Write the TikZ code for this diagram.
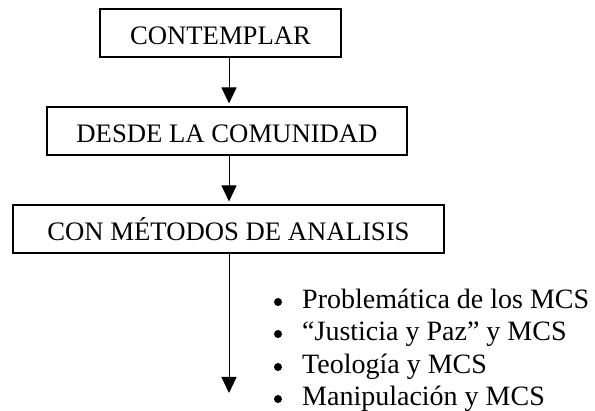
\documentclass[tikz,border=0pt]{standalone}
\usepackage{fontspec}
\setmainfont{Liberation Serif}
\usetikzlibrary{arrows.meta}
\begin{document}
\begin{tikzpicture}[x=1pt,y=-1pt,
  stepbox/.style={draw,line width=1.1pt,inner xsep=0pt,inner ysep=0pt,
    minimum height=48pt,text height=30pt,text depth=6pt,
    font=\fontsize{26.7}{32}\selectfont},
  arr/.style={line width=1pt,-{Triangle[width=15pt,length=16pt]}},
  bul/.style={circle,fill,inner sep=0pt,minimum size=8pt},
  item/.style={anchor=base west,inner sep=0pt,font=\fontsize{28}{33}\selectfont}]
\useasboundingbox (0,0) rectangle (595,411);
\node[stepbox,minimum width=241pt] (b1) at (220.5,33) {CONTEMPLAR};
\node[stepbox,minimum width=360pt] (b2) at (227,131) {DESDE LA COMUNIDAD};
\node[stepbox,minimum width=431pt] (b3) at (228.5,229) {CON MÉTODOS DE ANALISIS};
\coordinate (ax) at (229,0);
\coordinate (end) at (229,393);
\draw[arr] (b1.south -| ax) -- ([yshift=3pt]b2.north -| ax);
\draw[arr] (b2.south -| ax) -- ([yshift=3pt]b3.north -| ax);
\draw[arr] (b3.south -| ax) -- (end);
\node[bul] (d1) at (278,302) {};
\node[bul] (d2) at (278,334) {};
\node[bul] (d3) at (278,367) {};
\node[bul] (d4) at (278,399) {};
\node[item] (t1) at (302,309) {Problemática de los MCS};
\node[item] (t2) at (302,341) {“Justicia y Paz” y MCS};
\node[item] (t3) at (302,374) {Teología y MCS};
\node[item] (t4) at (302,406) {Manipulación y MCS};
\end{tikzpicture}
\end{document}
